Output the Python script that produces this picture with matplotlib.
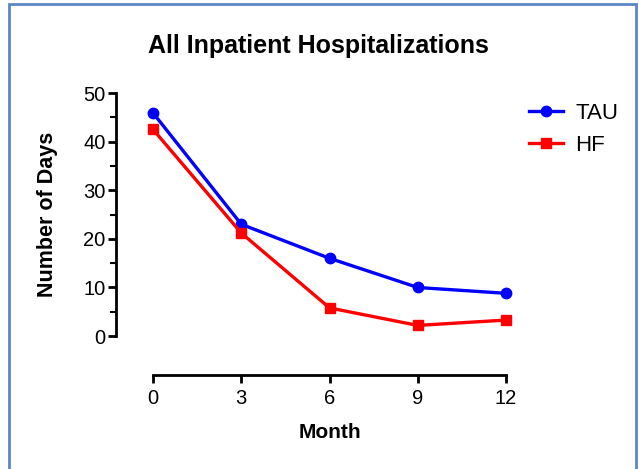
import matplotlib.pyplot as plt
from matplotlib.patches import Rectangle

plt.rcParams['font.family'] = ['Liberation Sans', 'DejaVu Sans']

# === DATA ===
months = [0, 3, 6, 9, 12]
tau_days = [45.9, 23.0, 16.0, 10.0, 8.8]
hf_days = [42.5, 21.2, 5.8, 2.2, 3.3]
x_ticks = [0, 3, 6, 9, 12]
y_ticks = [0, 10, 20, 30, 40, 50]

fig = plt.figure(figsize=(6.39, 4.69), dpi=100)
ax = fig.add_axes([0.1815, 0.2004, 0.6104, 0.6013])

# frame around the picture
fig.patches.append(Rectangle((9 / 639, -0.1), (636 - 9) / 639, 1.1 - 4 / 469,
                             transform=fig.transFigure, fill=False,
                             edgecolor='#5b87c5', linewidth=2.0))

ax.plot(months, tau_days, color='#0000ff', lw=2.4, marker='o', ms=7.5,
        label='TAU', clip_on=False, zorder=3)
ax.plot(months, hf_days, color='#ff0000', lw=2.4, marker='s', ms=7.5,
        label='HF', clip_on=False, zorder=3)

ax.set_xlim(-1.26, 12)
ax.set_ylim(-8, 50)
ax.spines['top'].set_visible(False)
ax.spines['right'].set_visible(False)
ax.spines['left'].set_bounds(0, 50)
ax.spines['bottom'].set_bounds(0, 12)
for s in ('left', 'bottom'):
    ax.spines[s].set_linewidth(2)

ax.set_xticks(x_ticks)
ax.set_yticks(y_ticks)
ax.set_yticks([5, 15, 25, 35, 45], minor=True)
ax.tick_params(axis='both', which='major', length=6, width=2, labelsize=14.5)
ax.tick_params(axis='y', which='major', pad=1.5)
ax.tick_params(axis='x', which='major', pad=4)
ax.tick_params(axis='y', which='minor', length=4, width=1.5)

ax.set_xlabel('Month', fontsize=15, fontweight='bold')
ax.set_ylabel('Number of Days', fontsize=15.5, fontweight='bold')
ax.xaxis.set_label_coords(0.549, -0.205)
ax.yaxis.set_label_coords(-0.175, 0.571)
ax.xaxis.label.set_va('center')
ax.yaxis.label.set_va('center')

fig.text(318 / 639, 1 - 46 / 469, 'All Inpatient Hospitalizations', fontsize=18,
         fontweight='bold', ha='center', va='center')

ax.legend(loc='upper left', bbox_to_anchor=(1.035, 0.997), frameon=False,
          fontsize=16, handlelength=1.55, handletextpad=0.55,
          labelspacing=0.5, borderaxespad=0.0)

fig.savefig('out.png', dpi=100)
